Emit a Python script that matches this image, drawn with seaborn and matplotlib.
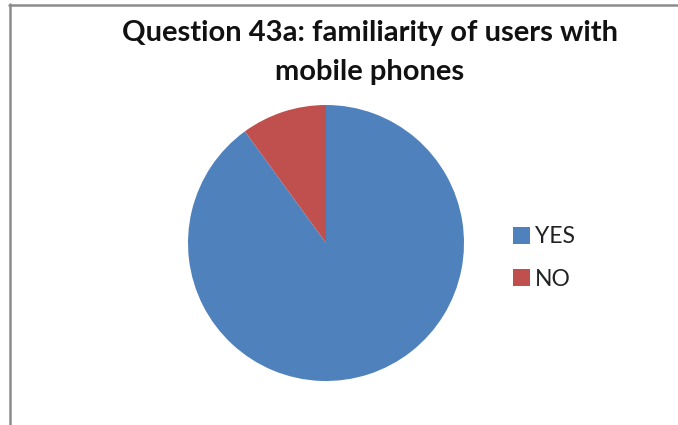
import matplotlib
matplotlib.use("Agg")
import matplotlib.pyplot as plt
from matplotlib.lines import Line2D
from matplotlib.patches import Patch
import seaborn as sns

# Survey answers (percent of respondents)
categories = ["YES", "NO"]
shares = [90, 10]
colors = ["#4F81BD", "#C0504D"]

sns.set_theme(style="white")
plt.rcParams["font.family"] = ["Lato", "DejaVu Sans"]

W, H = 678, 425
fig = plt.figure(figsize=(W / 100, H / 100), dpi=100)
fig.patch.set_facecolor("white")

# Pie area in pixel units
cx, cy, r = 326, 243, 138
ax = fig.add_axes([(cx - r) / W, (H - cy - r) / H, 2 * r / W, 2 * r / H])
wedges, _ = ax.pie(shares, colors=colors, startangle=90, counterclock=False,
                   wedgeprops=dict(linewidth=0), radius=1.0)
ax.set_xlim(-1, 1)
ax.set_ylim(-1, 1)
ax.set_aspect("equal")
ax.axis("off")

fig.text(370 / W, 1 - 41 / H, "Question 43a: familiarity of users with",
         ha="center", va="baseline", fontsize=21, fontweight="bold", color="#111111")
fig.text(370 / W, 1 - 80 / H, "mobile phones",
         ha="center", va="baseline", fontsize=21, fontweight="bold", color="#111111")

handles = [Patch(facecolor=c, edgecolor="none", label=lab) for c, lab in zip(colors, categories)]
fig.legend(handles=handles, loc="center left", bbox_to_anchor=(513 / W, 1 - 258 / H),
           frameon=False, fontsize=16.5, handlelength=0.75, handleheight=0.75,
           handletextpad=0.2, labelspacing=0.95, borderpad=0, borderaxespad=0,
           labelcolor="#222222")

# Frame along the top and left edges
fig.add_artist(Line2D([9 / W, 1], [1 - 4.5 / H, 1 - 4.5 / H], color="#8c8c8c", linewidth=1.8))
fig.add_artist(Line2D([9.5 / W, 9.5 / W], [0, 1 - 4 / H], color="#8c8c8c", linewidth=1.8))

fig.savefig("out.png", dpi=100, facecolor="white")
